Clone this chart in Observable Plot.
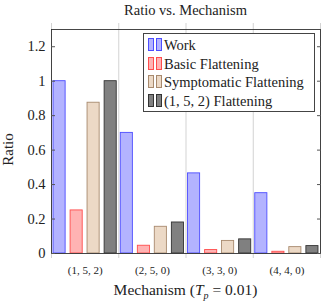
<!DOCTYPE html>
<html><head><meta charset="utf-8">
<script src="https://cdn.jsdelivr.net/npm/d3@7"></script>
<script src="https://cdn.jsdelivr.net/npm/@observablehq/plot@0.6"></script>
<style>
html,body{margin:0;padding:0;background:#fff;}
#wrap{position:relative;width:321px;height:307px;font-family:"Liberation Serif","Times New Roman",serif;color:#222;}
.abs{position:absolute;white-space:nowrap;}
#legend{position:absolute;left:143px;top:33px;width:172px;height:79px;border:1px solid #444;background:#fff;box-sizing:border-box;font-size:14.5px;}
.li{position:absolute;left:4px;height:16px;line-height:16px;}
.sw{display:inline-block;width:4px;height:11px;margin-right:2px;vertical-align:-1px;border:1px solid;}
</style></head>
<body><div id="wrap"></div>
<script>
const mechanisms = ["(1, 5, 2)", "(2, 5, 0)", "(3, 3, 0)", "(4, 4, 0)"];
const seriesNames = ["Work", "Basic Flattening", "Symptomatic Flattening", "(1, 5, 2) Flattening"];
const work = [1.0, 0.70, 0.465, 0.35];
const basic = [0.25, 0.045, 0.02, 0.01];
const symptomatic = [0.875, 0.155, 0.073, 0.037];
const flat152 = [1.0, 0.18, 0.082, 0.043];
const yTicks = [0, 0.2, 0.4, 0.6, 0.8, 1, 1.2];
const fills = ["#b3b3ff", "#ffb3b3", "#ecd9c6", "#808080"];
const strokes = ["#4d4dff", "#ff4d4d", "#a88a6e", "#333333"];

const seriesVals = [work, basic, symptomatic, flat152];
const offsets = [-0.38, -0.126, 0.126, 0.38];
const bw = 0.09;
const rows = [];
seriesVals.forEach((vals, s) => vals.forEach((v, i) => rows.push({s, x1: i + 1 + offsets[s] - bw, x2: i + 1 + offsets[s] + bw, y: v})));

const FONT = "'Liberation Serif', 'Times New Roman', serif";
const bounds = [0.5, 1.5, 2.5, 3.5, 4.5];
const plot = Plot.plot({
  width: 321, height: 307,
  marginLeft: 51, marginRight: 1, marginTop: 29, marginBottom: 54,
  style: {fontFamily: FONT, fontSize: "14px", color: "#222", background: "#fff"},
  x: {domain: [0.5, 4.5]},
  y: {domain: [0, 1.3]},
  marks: [
    Plot.ruleX(bounds, {stroke: "#c8c8c8", strokeWidth: 0.8, insetTop: -6, insetBottom: -5}),
    Plot.rectY(rows, {x1: "x1", x2: "x2", y: "y", fill: d => fills[d.s], fillOpacity: 1, stroke: d => strokes[d.s], strokeWidth: 0.9}),
    Plot.frame({stroke: "#333", strokeWidth: 0.9}),
    Plot.axisY({anchor: "left", ticks: yTicks, tickSize: -4, tickPadding: 10, stroke: "#555", tickFormat: d => String(d), label: null, fontSize: 14.5, fontFamily: FONT}),
    Plot.axisY({anchor: "right", ticks: yTicks, tickSize: -4, text: null, stroke: "#555", label: null}),
    Plot.axisX({anchor: "bottom", ticks: [1, 2, 3, 4], tickSize: 0, tickPadding: 13, tickFormat: d => mechanisms[d - 1], label: null, fontSize: 11, fontFamily: FONT})
  ]
});
const wrap = document.getElementById("wrap");
wrap.appendChild(plot);
plot.style.position = "absolute"; plot.style.left = "0"; plot.style.top = "0";

function addDiv(html, css) { const d = document.createElement("div"); d.className = "abs"; d.innerHTML = html; Object.assign(d.style, css); wrap.appendChild(d); return d; }
addDiv("Ratio vs. Mechanism", {left: "0", width: "371px", textAlign: "center", top: "2px", fontSize: "14.5px"});
addDiv("Mechanism (<i>T</i><sub style='font-size:10px;font-style:italic'>p</sub> = 0.01)", {left: "0", width: "371px", textAlign: "center", top: "281px", fontSize: "15.5px"});
addDiv("Ratio", {left: "-22px", width: "60px", textAlign: "center", top: "141px", fontSize: "15px", transform: "rotate(-90deg)", transformOrigin: "center"});

const lg = document.createElement("div"); lg.id = "legend"; wrap.appendChild(lg);
seriesNames.forEach((n, s) => {
  const it = document.createElement("div"); it.className = "li"; it.style.top = (3 + s * 18.5) + "px";
  it.innerHTML = `<span class="sw" style="background:${fills[s]};border-color:${strokes[s]}"></span><span class="sw" style="background:${fills[s]};border-color:${strokes[s]}"></span>${n}`;
  lg.appendChild(it);
});
</script></body></html>
